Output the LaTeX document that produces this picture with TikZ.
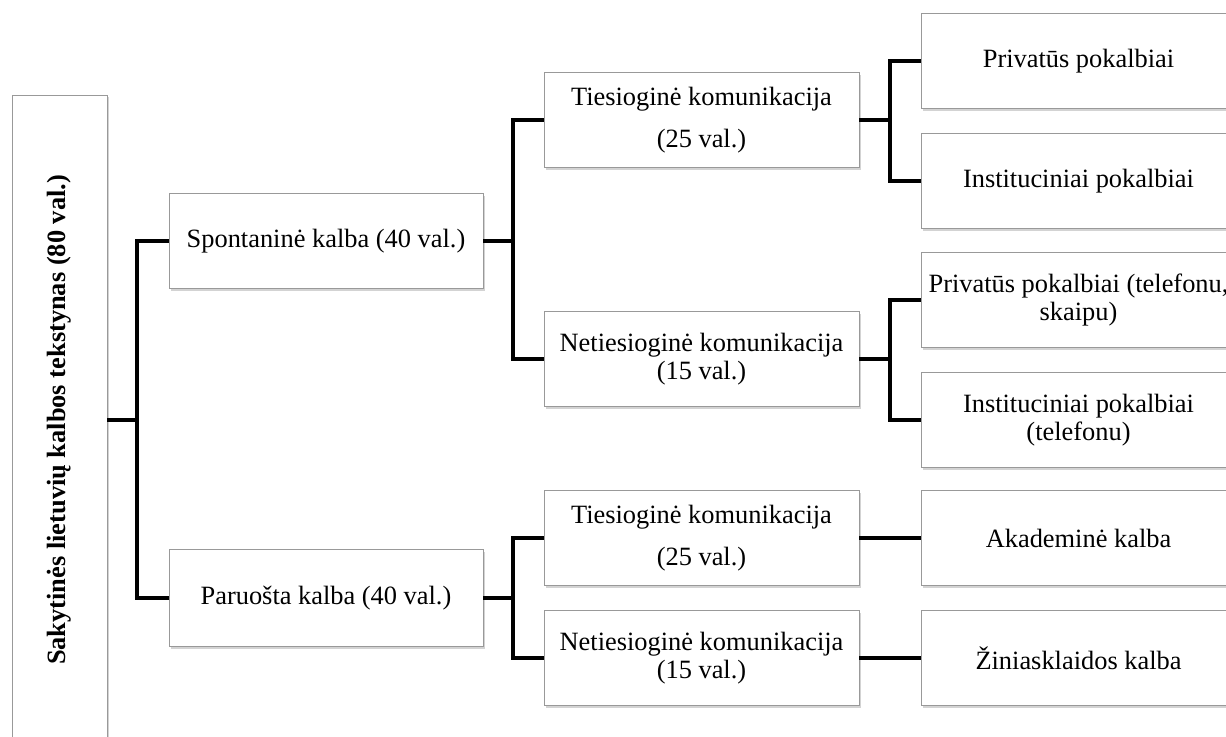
\documentclass[tikz,border=0pt]{standalone}
\usepackage{fontspec}
\setmainfont{Liberation Serif}
\usepackage{graphicx}
\usetikzlibrary{shadows}
\begin{document}
\begin{tikzpicture}[x=0.75pt,y=-0.75pt,
  box/.style={draw=black!40, line width=0.6pt, fill=white,
    drop shadow={shadow xshift=1.5pt,shadow yshift=-1.8pt,opacity=0.35},
    minimum width=236.25pt, minimum height=71.25pt, align=center, inner sep=0pt,
    font=\fontsize{19.8}{21}\selectfont},
  widebox/.style={box, font=\fontsize{19.8}{32}\selectfont},
  conn/.style={line width=3.4pt, line join=miter}]
\useasboundingbox (0,0) rectangle (1226,736);
% junction coordinates
\coordinate (jL) at (137,0);
\coordinate (jM) at (513,0);
\coordinate (jR) at (890,0);
% root
\node[box, minimum width=71.25pt, minimum height=487.5pt] (root) at (59.5,420)
  {\rotatebox{90}{\bfseries Sakytinės lietuvių kalbos tekstynas (80 val.)}};
% level 1
\node[box, minimum width=235.5pt] (sp) at (326,241) {Spontaninė kalba (40 val.)};
\node[box, minimum width=235.5pt, minimum height=72.75pt] (pa) at (326,598) {Paruošta kalba (40 val.)};
% level 2
\node[widebox] (ti1) at (701.5,120) {Tiesioginė komunikacija\\(25 val.)};
\node[box] (ne1) at (701.5,359) {Netiesioginė komunikacija\\(15 val.)};
\node[widebox] (ti2) at (701.5,538) {Tiesioginė komunikacija\\(25 val.)};
\node[box] (ne2) at (701.5,658) {Netiesioginė komunikacija\\(15 val.)};
% level 3
\node[box] (r1) at (1078.5,61) {Privatūs pokalbiai};
\node[box] (r2) at (1078.5,181) {Instituciniai pokalbiai};
\node[box] (r3) at (1078.5,300) {Privatūs pokalbiai (telefonu,\\skaipu)};
\node[box] (r4) at (1078.5,420) {Instituciniai pokalbiai\\(telefonu)};
\node[box] (r5) at (1078.5,538) {Akademinė kalba};
\node[box] (r6) at (1078.5,658) {Žiniasklaidos kalba};
% connectors
\draw[conn] (root.east) -- (root.east -| jL);
\draw[conn] (sp.west) -- (sp.west -| jL) -- (pa.west -| jL) -- (pa.west);
\draw[conn] (sp.east) -- (sp.east -| jM);
\draw[conn] (ti1.west) -- (ti1.west -| jM) -- (ne1.west -| jM) -- (ne1.west);
\draw[conn] (pa.east) -- (pa.east -| jM);
\draw[conn] (ti2.west) -- (ti2.west -| jM) -- (ne2.west -| jM) -- (ne2.west);
\draw[conn] (ti1.east) -- (ti1.east -| jR);
\draw[conn] (r1.west) -- (r1.west -| jR) -- (r2.west -| jR) -- (r2.west);
\draw[conn] (ne1.east) -- (ne1.east -| jR);
\draw[conn] (r3.west) -- (r3.west -| jR) -- (r4.west -| jR) -- (r4.west);
\draw[conn] (ti2.east) -- (r5.west);
\draw[conn] (ne2.east) -- (r6.west);
\end{tikzpicture}
\end{document}
